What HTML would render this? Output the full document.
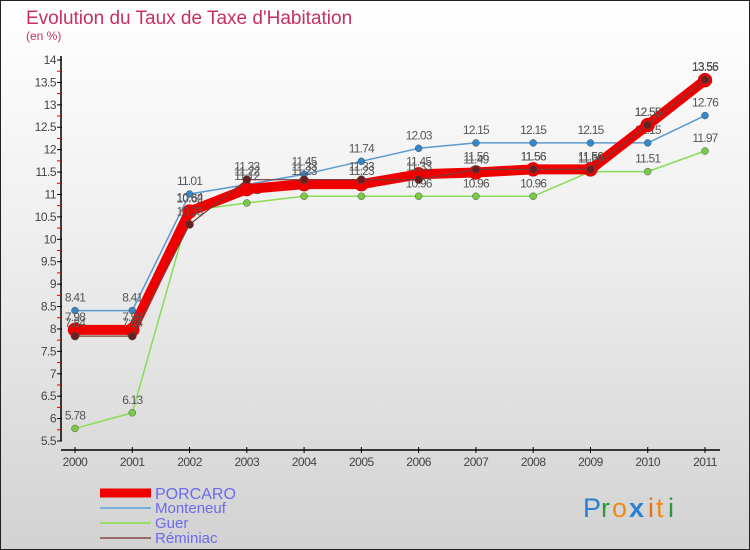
<!DOCTYPE html>
<html><head><meta charset="utf-8">
<style>
html,body{margin:0;padding:0;}
body{width:750px;height:550px;overflow:hidden;font-family:"Liberation Sans",sans-serif;}
#wrap{position:relative;width:748px;height:548px;border:1px solid #222;background:linear-gradient(#fff 0%,#f0f0f0 40%,#d2d2d2 100%);}
svg text{font-family:"Liberation Sans",sans-serif;}
</style></head>
<body>
<div id="wrap">
<svg id="chart" width="750" height="550" style="position:absolute;left:-1px;top:-1px">
<text x="26" y="24" font-size="19" fill="#c83060">Evolution du Taux de Taxe d'Habitation</text>
<text x="26" y="40" font-size="12" fill="#c83060">(en %)</text>
<g id="axes"></g>
<g id="series"></g>
<g id="legend"></g>
<g font-size="27">
<text x="583" y="517" fill="#2a7fd0">P</text><text x="601" y="517" fill="#2a9a3a">r</text><text x="612" y="517" fill="#f08a10">o</text><text x="629" y="517" fill="#2a7fd0" font-weight="bold">x</text><text x="648" y="517" fill="#e07010">i</text><text x="656" y="517" fill="#f08a10">t</text><text x="668" y="517" fill="#2a9a3a">i</text>
</g>
</svg>
</div>
<script>
const years = ["2000","2001","2002","2003","2004","2005","2006","2007","2008","2009","2010","2011"];
const porcaro = [7.98,7.98,10.62,11.12,11.23,11.23,11.45,11.49,11.56,11.56,12.55,13.55];
const monteneuf = [8.41,8.41,11.01,11.22,11.45,11.74,12.03,12.15,12.15,12.15,12.15,12.76];
const guer = [5.78,6.13,10.64,10.81,10.96,10.96,10.96,10.96,10.96,11.51,11.51,11.97];
const reminiac = [7.84,7.84,10.33,11.33,11.33,11.33,11.33,11.56,11.56,11.56,12.55,13.56];
const yTicks = [5.5,6,6.5,7,7.5,8,8.5,9,9.5,10,10.5,11,11.5,12,12.5,13,13.5,14];
const seriesNames = ["PORCARO","Monteneuf","Guer","Réminiac"];

const NS="http://www.w3.org/2000/svg";
const yMin=5.5,yMax=14,yTop=60,yBot=441;
function ys(v){return yBot-(v-yMin)/(yMax-yMin)*(yBot-yTop);}
function xs(i){return 75+i*(705-75)/(years.length-1);}
function mk(tag,attrs,parent){const e=document.createElementNS(NS,tag);for(const k in attrs)e.setAttribute(k,attrs[k]);parent.appendChild(e);return e;}
function fmt(v){return String(v);}

const axes=document.getElementById('axes');
let a=mk('line',{x1:61,y1:56,x2:61,y2:yBot,stroke:'#000','stroke-width':1.5},axes);


a=mk('line',{x1:61,y1:450,x2:720,y2:450,stroke:'#000','stroke-width':1.5},axes);


yTicks.forEach((v,i)=>{
  const y=ys(v);
  mk('line',{x1:57,y1:y,x2:62,y2:y,stroke:'#000'},axes);
  if(i<yTicks.length-1){mk('line',{x1:57,y1:ys(v+0.25),x2:61,y2:ys(v+0.25),stroke:'#e00000'},axes);}
  const t=mk('text',{x:56,y:y+4,'text-anchor':'end','font-size':12,fill:'#444','letter-spacing':'-0.5'},axes);
  t.textContent=fmt(v);
  
  
});
years.forEach((yr,i)=>{
  const x=xs(i);
  mk('line',{x1:x,y1:447,x2:x,y2:453,stroke:'#000'},axes);
  const t=mk('text',{x:x,y:466,'text-anchor':'middle','font-size':12,fill:'#444','letter-spacing':'-0.5'},axes);
  t.textContent=yr;
  
  
});

const sg=document.getElementById('series');
const defs=[
  {data:guer,color:'#88dd55',w:1.5,r:3.5,fill:'#77cc44',name:'guer'},
  {data:monteneuf,color:'#5a9ad0',w:1.5,r:3.5,fill:'#3388cc',name:'monteneuf'},
  {data:porcaro,color:'#ee0000',w:10,r:7,fill:'#ee0000',name:'porcaro'},
  {data:reminiac,color:'#7a3a3a',w:1.2,r:4,fill:'#6a2020',name:'reminiac'}
];
defs.forEach(d=>{
  const g=mk('g',{},sg);
  
  
  const pts=d.data.map((v,i)=>xs(i)+','+ys(v)).join(' ');
  const pl=mk('polyline',{points:pts,fill:'none',stroke:d.color,'stroke-width':d.w,'stroke-linejoin':'round'},g);
  
  
  d.data.forEach((v,i)=>{
    const c=mk('circle',{cx:xs(i),cy:ys(v),r:d.r,fill:d.fill,stroke:d.name==='porcaro'?'#cc0000':'#555','stroke-width':0.5},g);
    
    
    const t=mk('text',{x:xs(i),y:ys(v)-9,'text-anchor':'middle','font-size':12,fill:'#555','letter-spacing':'-0.8'},g);
    t.textContent=fmt(v);
    
    
  });
});

const lg=document.getElementById('legend');
const legDefs=[{c:'#ee0000',w:9},{c:'#7aaed8',w:2},{c:'#99dd66',w:2},{c:'#9a6a6a',w:2}];
seriesNames.forEach((n,i)=>{
  const y=493+i*15;
  const g=mk('g',{},lg);
  
  
  mk('line',{x1:100,y1:y,x2:151,y2:y,stroke:legDefs[i].c,'stroke-width':legDefs[i].w},g);
  const t=mk('text',{x:155,y:y+(i===0?6:5),'font-size':i===0?16:15,fill:'#6a6aee'},g);
  t.textContent=n;
  
  
});
</script>
</body></html>
